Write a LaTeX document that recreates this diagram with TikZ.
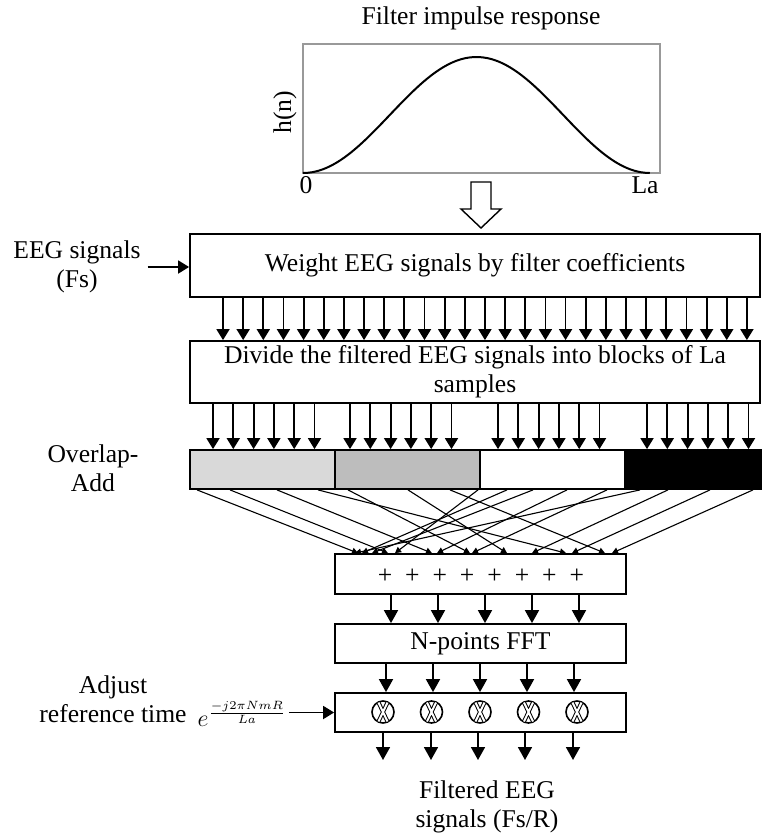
\documentclass[tikz,border=0pt]{standalone}
\usepackage{fontspec}
\setmainfont{Liberation Serif}
\usepackage{tikz}
\usetikzlibrary{arrows.meta}

\begin{document}
\begin{tikzpicture}[
    x = 0.5pt, y = -0.5pt,
    every node/.style = {font=\fontsize{12.8}{14.5}\selectfont},
    % Named styles
    stage/.style     = {draw, line width=0.9pt, inner sep=0pt, align=center},
    block/.style     = {draw, line width=0.9pt, minimum height=19.5pt, inner sep=0pt},
    feed/.style      = {-{Triangle[width=6.5pt,length=5.5pt]}, line width=0.9pt},
    bigfeed/.style   = {-{Triangle[width=7pt,length=6.5pt]}, line width=0.9pt},
    fold/.style      = {-{Triangle[width=3.2pt,length=3pt]}, line width=0.55pt},
    plotframe/.style = {draw=black!40, line width=0.7pt},
    mult/.style      = {circle, draw, line width=0.8pt, minimum size=11pt, inner sep=0pt},
    xcross/.style    = {draw=black, double=white, double distance=1pt, line width=0.5pt},
    sidetext/.style  = {align=center},
]

% ── Canvas (1 unit = 1 pixel of the 761 x 836 layout) ─────────────────────────
\useasboundingbox (0,0) rectangle (761,836);

% ── Filter impulse response ───────────────────────────────────────────────────
\node (title) at (481,18) {Filter impulse response};
\draw[plotframe] (303,44) rectangle (660,173);
\draw[line width=1pt, smooth, samples=80, domain=0:1]
    plot ({303+347*\x}, {173-116*(1-cos(360*\x))/2});
\node[rotate=90] (hn) at (285,112) {h(n)};
\node (zero) at (306,185) {0};
\node (len)  at (645,185) {La};

% Hollow arrow into the weighting stage
\draw[line width=0.7pt, fill=white]
    (471,182) -- (491,182) -- (491,209) -- (501,209) -- (481,228)
    -- (461,209) -- (471,209) -- cycle;

% ── Weighting and block division ─────────────────────────────────────────────
\node[stage, minimum width=285pt, minimum height=31.5pt] (weight) at (475,265.5)
    {Weight EEG signals by filter coefficients};
\node[sidetext] (eeg) at (77,267) {EEG signals\\(Fs)};
\draw[feed] (eeg.east) -- (eeg.east -| weight.west);

\node[stage, minimum width=285pt, minimum height=31pt] (divide) at (475,372)
    {Divide the filtered EEG signals into blocks of La\\samples};

\foreach \i in {0,...,26} {
    \path (223+20.15*\i,0) coordinate (t);
    \draw[feed] (t |- weight.south) -- (t |- divide.north);
}

% ── Blocks of La samples ─────────────────────────────────────────────────────
\node[block, fill=black!15, minimum width=72.5pt] (blk1) at (262.5,469.5) {};
\node[block, fill=black!26, minimum width=72.5pt] (blk2) at (407.5,469.5) {};
\node[block, fill=white,    minimum width=72.5pt] (blk3) at (552.5,469.5) {};
\node[block, fill=black,    minimum width=68pt]   (blk4) at (693,469.5)   {};
\node[sidetext] (ola) at (93,468) {Overlap-\\Add};

\foreach \s in {213,350,498,647} {
    \foreach \k in {0,...,5} {
        \path (\s+20.3*\k,0) coordinate (t);
        \draw[feed] (t |- divide.south) -- (t |- blk1.north);
    }
}

% ── Overlap-add ──────────────────────────────────────────────────────────────
\node[stage, minimum width=145.5pt, minimum height=20pt] (plus) at (480.5,574) {};
\foreach \k in {0,...,7}
    \node (p\k) at (385+27.4*\k,576) {+};

% folding of the four blocks onto the summing points
\foreach \a/\b in {197/358, 230/388, 277/432, 318/566,
                   348/470, 408/507, 450/605, 478/395,
                   507/362, 533/372, 567/437, 607/472,
                   640/355, 668/532, 710/572, 753/612} {
    \path (\a,0) coordinate (s) (\b,0) coordinate (e);
    \draw[fold] (s |- blk1.south) -- (e |- plus.north);
}

% ── FFT and phase correction ─────────────────────────────────────────────────
\node[stage, minimum width=145.5pt, minimum height=19.5pt] (fft) at (480.5,643.5)
    {N-points FFT};
\node[stage, minimum width=145.5pt, minimum height=19.5pt] (phase) at (480.5,712.5) {};

\foreach \x in {391,438,485,532,579} {
    \path (\x,0) coordinate (t);
    \draw[bigfeed] (t |- plus.south) -- (t |- fft.north);
}
\foreach \x in {386,433,480,527,574} {
    \path (\x,0) coordinate (t);
    \draw[bigfeed] (t |- fft.south) -- (t |- phase.north);
}

\foreach \x [count=\n] in {383,431.5,480,528.5,577} {
    \node[mult] (m\n) at (\x,712) {};
    \draw[xcross] (\x-4.5,702.5) -- (\x+4.5,721.5) (\x+4.5,702.5) -- (\x-4.5,721.5);
}

\node[sidetext] (adj) at (113,699) {Adjust\\reference time};
\node[inner sep=1pt] (expo) at (242,714)
    {$e^{\hbox{\fontsize{8}{9}\selectfont$\frac{-j2\pi NmR}{La}$}}$};
\draw[feed] (expo.east |- phase.west) -- (phase.west);

% ── Output ───────────────────────────────────────────────────────────────────
\coordinate (tip) at (480,760);
\foreach \x in {383,431,478,525,573} {
    \path (\x,0) coordinate (t);
    \draw[bigfeed] (t |- phase.south) -- (t |- tip);
}
\node[sidetext] (out) at (487,807) {Filtered EEG\\signals (Fs/R)};

\end{tikzpicture}
\end{document}
